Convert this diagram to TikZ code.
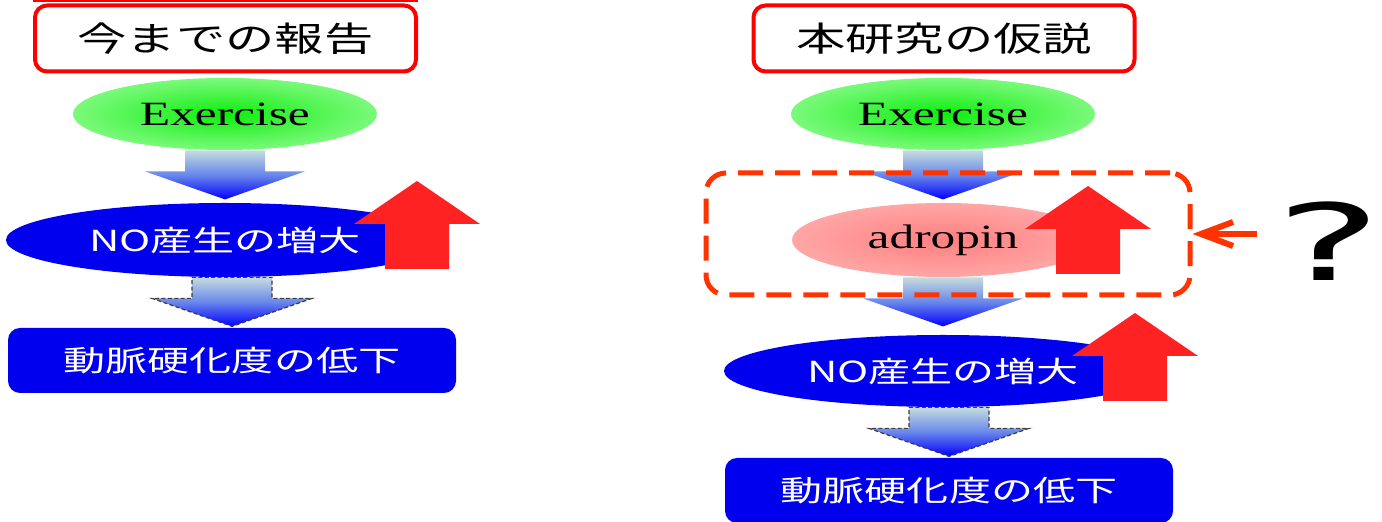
\documentclass[tikz,border=0pt]{standalone}
\usepackage{fontspec}
\usepackage{graphicx}
\setmainfont{Liberation Serif}
\newfontfamily\jpfont{Noto Sans CJK JP}
\newfontfamily\qfont{DejaVu Sans}
\usetikzlibrary{arrows.meta,backgrounds,shapes.geometric}

\definecolor{boxred}{RGB}{255,0,0}
\definecolor{upred}{RGB}{255,34,34}
\definecolor{hypred}{RGB}{255,51,0}
\definecolor{noblue}{RGB}{0,0,238}
\definecolor{shaftgrey}{RGB}{196,220,222}
\definecolor{headmid}{RGB}{105,135,235}
\definecolor{headblue}{RGB}{0,0,255}
\definecolor{rimgrey}{RGB}{60,60,60}

\pgfdeclareradialshading{exglow}{\pgfpoint{0bp}{0bp}}{rgb(0bp)=(0.05,0.93,0.05); rgb(20bp)=(0.4,0.97,0.4); rgb(40bp)=(0.72,1,0.72); rgb(50bp)=(0.9,1,0.9)}
\pgfdeclareradialshading{adglow}{\pgfpoint{0bp}{0bp}}{rgb(0bp)=(1,0.5,0.5); rgb(25bp)=(1,0.65,0.65); rgb(50bp)=(1,0.86,0.86)}

\newcommand{\wide}[1]{\scalebox{1.45}[1]{#1}}

\tikzset{
  titlebox/.style={draw=boxred, line width=2pt, rounded corners=6pt, fill=white,
    minimum width=190.5pt, minimum height=33pt, inner sep=0pt,
    font=\jpfont\fontsize{17}{17}\selectfont},
  exbubble/.style={ellipse, shade, shading=exglow, minimum width=152pt,
    minimum height=36pt, inner sep=0pt, font=\fontsize{17}{17}\selectfont},
  adbubble/.style={ellipse, shade, shading=adglow, minimum width=151pt,
    minimum height=37pt, inner sep=0pt, font=\fontsize{17}{17}\selectfont},
  nobubble/.style={ellipse, fill=noblue, text=white, minimum width=219pt,
    minimum height=37pt, inner sep=0pt, font=\jpfont\fontsize{14.5}{14.5}\selectfont},
  lowbox/.style={rounded corners=6pt, fill=noblue, text=white, minimum width=224pt,
    minimum height=32.5pt, inner sep=0pt, font=\jpfont\fontsize{14.5}{14.5}\selectfont},
  hypframe/.style={draw=hypred, line width=2.5pt, dash pattern=on 12.5pt off 6pt,
    rounded corners=10pt, minimum width=242pt, minimum height=61pt},
  arrowshade/.style={top color=shaftgrey, bottom color=headblue, middle color=headmid},
  dashedrim/.style={draw=rimgrey, line width=0.6pt, dash pattern=on 2pt off 1.2pt},
  downarrow/.pic={\path[pic actions] (-40,0) -- (40,0) -- (40,21) -- (80,21) -- (0,49)
    -- (-80,21) -- (-40,21) -- cycle;},
  uparrow/.pic={\path[pic actions] (0,0) -- (63,43) -- (32,43) -- (32,88) -- (-32,88)
    -- (-32,43) -- (-63,43) -- cycle;}
}

\begin{document}
\begin{tikzpicture}[x=0.5pt, y=-0.5pt]
  \useasboundingbox (0,0) rectangle (1382,522);

  % left: earlier reports
  \draw[boxred, line width=1.5pt] (33,1) -- (418,1);
  \node[titlebox] (t1) at (225.5,38.5) {\wide{今までの報告}};
  \node[exbubble] (ex1) at (225,114) {\wide{Exercise}};
  \node[nobubble] (no1) at (225,240) {\wide{NO産生の増大}};
  \node[lowbox] (low1) at (232,360.5) {\wide{動脈硬化度の低下}};

  % right: hypothesis of this study
  \node[titlebox] (t2) at (944,38.5) {\wide{本研究の仮説}};
  \node[exbubble] (ex2) at (943,114) {\wide{Exercise}};
  \node[adbubble] (ad) at (943,240) {\wide{adropin}};
  \node[nobubble, minimum height=36pt] (no2) at (943,371) {\wide{NO産生の増大}};
  \node[lowbox] (low2) at (949,490.5) {\wide{動脈硬化度の低下}};

  \begin{scope}[on background layer]
    \pic[arrowshade] at (ex1.south) {downarrow};
    \pic[arrowshade, dashedrim] at (no1.south -| low1.north) {downarrow};
    \pic[arrowshade] at (ex2.south) {downarrow};
    \pic[arrowshade] at (ad.south) {downarrow};
    \pic[arrowshade, dashedrim] at (no2.south -| low2.north) {downarrow};
  \end{scope}

  % increase marks
  \pic[fill=upred] at (417,181) {uparrow};
  \pic[fill=upred] at (1088,186) {uparrow};
  \pic[fill=upred] at (1135,313) {uparrow};

  \node[hypframe] (hyp) at (948,234) {};
  \node[font=\qfont\fontsize{53}{53}\selectfont, inner sep=0pt] (q) at (1329,241) {\scalebox{1.9}[1]{?}};
  \coordinate (qtail) at (1257,234);
  \draw[hypred, line width=3pt, -{Straight Barb[length=16pt,width=12pt]}]
    (qtail) -- (hyp.east);
\end{tikzpicture}
\end{document}
